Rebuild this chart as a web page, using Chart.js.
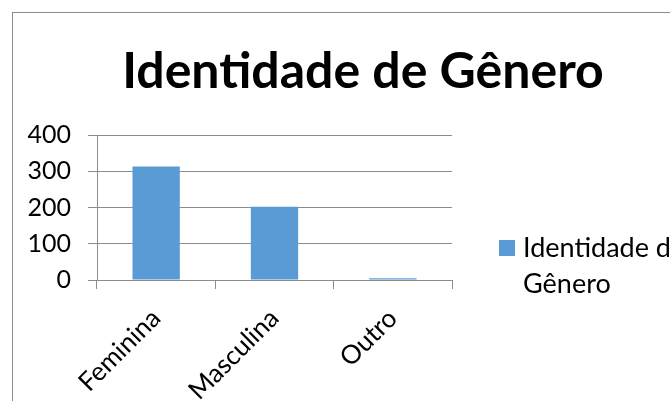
<!DOCTYPE html>
<html>
<head>
<meta charset="utf-8">
<script src="https://cdn.jsdelivr.net/npm/chart.js@4.4.0/dist/chart.umd.min.js"></script>
<style>
  html, body { margin: 0; padding: 0; background: #fff; overflow: hidden; width: 670px; height: 401px; }
  #frame { position: absolute; left: 12px; top: 12px; width: 720px; height: 420px;
           border-left: 1px solid #8c8c8c; border-top: 1px solid #8c8c8c; }
  #chart { position: absolute; left: 12px; top: 12px; }
</style>
</head>
<body>
<div id="frame"></div>
<canvas id="chart" width="702" height="389"></canvas>
<script>
const titleText = "Identidade de Gênero";
const categories = ["Feminina", "Masculina", "Outro"];
const seriesLabel = ["Identidade de", "Gênero"];
const seriesValues = [313, 202, 5];
const yTicks = [0, 100, 200, 300, 400];

const font = "Lato";
const gridColor = "#8c8c8c";
const barColor = "#5b9bd5";

// title and legend drawn by hand: the title is centred on the whole frame
// (not the padded area) and the legend label wraps onto two lines
const frameText = {
  id: "frameText",
  afterDraw(chart) {
    const ctx = chart.ctx;
    const ds = chart.data.datasets[0];
    ctx.save();
    ctx.fillStyle = "#000";
    ctx.font = "bold 50px " + font;
    ctx.textAlign = "center";
    ctx.textBaseline = "alphabetic";
    ctx.fillText(titleText, chart.width / 2, 76);

    ctx.fillStyle = ds.backgroundColor;
    ctx.fillRect(487, 228, 16, 16);
    ctx.fillStyle = "#000";
    ctx.font = "27px " + font;
    ctx.textAlign = "left";
    ds.label.forEach((line, i) => ctx.fillText(line, 511, 245 + i * 36));
    ctx.restore();
  }
};

new Chart(document.getElementById("chart"), {
  type: "bar",
  data: {
    labels: categories,
    datasets: [{
      label: seriesLabel,
      data: seriesValues,
      backgroundColor: barColor,
      barPercentage: 0.4,
      categoryPercentage: 1.0
    }]
  },
  options: {
    responsive: false,
    animation: false,
    layout: { padding: { left: 0, right: 262, top: 123, bottom: 0 } },
    plugins: {
      legend: { display: false },
      tooltip: { enabled: false },
      title: { display: false }
    },
    scales: {
      x: {
        offset: true,
        grid: { offset: true, drawOnChartArea: false, drawTicks: true, tickLength: 9, color: gridColor },
        border: { display: true, color: gridColor },
        ticks: { color: "#000", font: { family: font, size: 26 }, maxRotation: 45, minRotation: 45, padding: 14 },
        afterFit(scale) { scale.height = 121; }
      },
      y: {
        min: yTicks[0],
        max: yTicks[yTicks.length - 1],
        afterBuildTicks(scale) { scale.ticks = yTicks.map(v => ({ value: v })); },
        grid: { color: gridColor, tickLength: 9 },
        border: { display: true, color: gridColor },
        ticks: { color: "#000", font: { family: font, size: 25 }, padding: 17 },
        afterFit(scale) { scale.width = 85; }
      }
    }
  },
  plugins: [frameText]
});
</script>
</body>
</html>
